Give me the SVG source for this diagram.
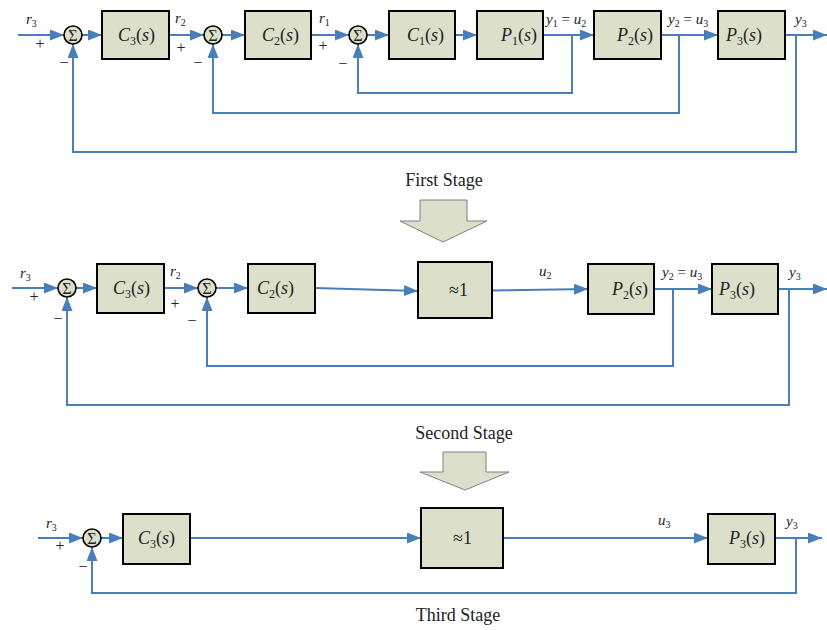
<svg xmlns="http://www.w3.org/2000/svg" width="827" height="630" viewBox="0 0 827 630">
<style>
.blk{fill:#DCE0CB;stroke:#000;stroke-width:2}
.sum{fill:#DCE0CB;stroke:#000;stroke-width:1.6}
.ln{fill:none;stroke:#4A7EBB;stroke-width:2}
text{font-family:'Liberation Serif','DejaVu Serif',serif;fill:#222}
.bt{font-size:18px}
.lb{font-size:15px}
.sg{font-size:16px;text-anchor:middle}
.sm{font-size:16px;text-anchor:middle}
.i{font-style:italic}
.st{font-size:18px;text-anchor:middle}
.big{fill:#DCE0CB;stroke:#808080;stroke-width:1}
</style>
<defs>
<marker id="ah" markerUnits="userSpaceOnUse" markerWidth="15" markerHeight="11" refX="14" refY="5.5" orient="auto">
<path d="M0,0 L14,5.5 L0,11 z" fill="#4A7EBB"/>
</marker>
</defs>

<g id="connectors">
<path class="ln" d="M18,35 H64" marker-end="url(#ah)"/>
<path class="ln" d="M82,35 H102" marker-end="url(#ah)"/>
<path class="ln" d="M169,35 H204" marker-end="url(#ah)"/>
<path class="ln" d="M222,35 H245" marker-end="url(#ah)"/>
<path class="ln" d="M311,35 H349" marker-end="url(#ah)"/>
<path class="ln" d="M367,35 H389" marker-end="url(#ah)"/>
<path class="ln" d="M455,35 H477" marker-end="url(#ah)"/>
<path class="ln" d="M543,35 H594" marker-end="url(#ah)"/>
<path class="ln" d="M661,35 H718" marker-end="url(#ah)"/>
<path class="ln" d="M785,35 H827" marker-end="url(#ah)"/>
<path class="ln" d="M572,35 V93 H358 V44" marker-end="url(#ah)"/>
<path class="ln" d="M679,35 V113 H213 V44" marker-end="url(#ah)"/>
<path class="ln" d="M796,35 V152 H73 V44" marker-end="url(#ah)"/>
<path class="ln" d="M12,288 H58" marker-end="url(#ah)"/>
<path class="ln" d="M76,288 H97" marker-end="url(#ah)"/>
<path class="ln" d="M164,288 H198" marker-end="url(#ah)"/>
<path class="ln" d="M216,288 H248" marker-end="url(#ah)"/>
<path class="ln" d="M315,288 L418,291" marker-end="url(#ah)"/>
<path class="ln" d="M492,290.5 L588,289" marker-end="url(#ah)"/>
<path class="ln" d="M654,289 H712" marker-end="url(#ah)"/>
<path class="ln" d="M778,289 H827" marker-end="url(#ah)"/>
<path class="ln" d="M673,289 V366 H207 V297" marker-end="url(#ah)"/>
<path class="ln" d="M789,289 V405 H67 V297" marker-end="url(#ah)"/>
<path class="ln" d="M38,538 H83" marker-end="url(#ah)"/>
<path class="ln" d="M101,538 H123" marker-end="url(#ah)"/>
<path class="ln" d="M190,538 H421" marker-end="url(#ah)"/>
<path class="ln" d="M503,538 H708" marker-end="url(#ah)"/>
<path class="ln" d="M775,538 H822" marker-end="url(#ah)"/>
<path class="ln" d="M796,538 V593 H92 V547" marker-end="url(#ah)"/>
</g>

<g id="s1_sum1"><circle class="sum" cx="73" cy="35" r="9"/><text class="sm" x="73" y="40.5">Σ</text></g>
<g id="s1_C3"><rect class="blk" x="102" y="11" width="67" height="48"/><text class="bt" x="118" y="41"><tspan class="i">C</tspan><tspan font-size="12" dy="4">3</tspan><tspan dy="-4">(</tspan><tspan class="i">s</tspan>)</text></g>
<g id="s1_sum2"><circle class="sum" cx="213" cy="35" r="9"/><text class="sm" x="213" y="40.5">Σ</text></g>
<g id="s1_C2"><rect class="blk" x="245" y="11" width="66" height="48"/><text class="bt" x="262" y="41"><tspan class="i">C</tspan><tspan font-size="12" dy="4">2</tspan><tspan dy="-4">(</tspan><tspan class="i">s</tspan>)</text></g>
<g id="s1_sum3"><circle class="sum" cx="358" cy="35" r="9"/><text class="sm" x="358" y="40.5">Σ</text></g>
<g id="s1_C1"><rect class="blk" x="389" y="11" width="66" height="48"/><text class="bt" x="407" y="41"><tspan class="i">C</tspan><tspan font-size="12" dy="4">1</tspan><tspan dy="-4">(</tspan><tspan class="i">s</tspan>)</text></g>
<g id="s1_P1"><rect class="blk" x="477" y="11" width="66" height="48"/><text class="bt" x="501" y="41"><tspan class="i">P</tspan><tspan font-size="12" dy="4">1</tspan><tspan dy="-4">(</tspan><tspan class="i">s</tspan>)</text></g>
<g id="s1_P2"><rect class="blk" x="594" y="11" width="67" height="48"/><text class="bt" x="617" y="41"><tspan class="i">P</tspan><tspan font-size="12" dy="4">2</tspan><tspan dy="-4">(</tspan><tspan class="i">s</tspan>)</text></g>
<g id="s1_P3"><rect class="blk" x="718" y="11" width="67" height="48"/><text class="bt" x="726" y="41"><tspan class="i">P</tspan><tspan font-size="12" dy="4">3</tspan><tspan dy="-4">(</tspan><tspan class="i">s</tspan>)</text></g>

<g id="s1_labels">
<text class="lb" x="26" y="24"><tspan class="i">r</tspan><tspan font-size="10" dy="3">3</tspan></text>
<text class="sg" x="40" y="49">+</text>
<text class="sg" x="64" y="68">−</text>
<text class="lb" x="175" y="23"><tspan class="i">r</tspan><tspan font-size="10" dy="3">2</tspan></text>
<text class="sg" x="181" y="53">+</text>
<text class="sg" x="198" y="68">−</text>
<text class="lb" x="319" y="23"><tspan class="i">r</tspan><tspan font-size="10" dy="3">1</tspan></text>
<text class="sg" x="323" y="51">+</text>
<text class="sg" x="343" y="69">−</text>
<text class="lb" x="546" y="24"><tspan class="i">y</tspan><tspan font-size="10" dy="3">1</tspan><tspan dy="-3"> = </tspan><tspan class="i">u</tspan><tspan font-size="10" dy="3">2</tspan></text>
<text class="lb" x="668" y="24"><tspan class="i">y</tspan><tspan font-size="10" dy="3">2</tspan><tspan dy="-3"> = </tspan><tspan class="i">u</tspan><tspan font-size="10" dy="3">3</tspan></text>
<text class="lb" x="795" y="24"><tspan class="i">y</tspan><tspan font-size="10" dy="3">3</tspan></text>
</g>

<g id="arrow1"><polygon class="big" points="420,200 467,200 467,221 487,221 443,242 400,221 420,221"/></g>
<text class="st" x="444" y="186">First Stage</text>

<g id="s2_sum1"><circle class="sum" cx="67" cy="288" r="9"/><text class="sm" x="67" y="293.5">Σ</text></g>
<g id="s2_C3"><rect class="blk" x="97" y="264" width="67" height="49"/><text class="bt" x="113" y="294"><tspan class="i">C</tspan><tspan font-size="12" dy="4">3</tspan><tspan dy="-4">(</tspan><tspan class="i">s</tspan>)</text></g>
<g id="s2_sum2"><circle class="sum" cx="207" cy="288" r="9"/><text class="sm" x="207" y="293.5">Σ</text></g>
<g id="s2_C2"><rect class="blk" x="248" y="264" width="67" height="49"/><text class="bt" x="257" y="294"><tspan class="i">C</tspan><tspan font-size="12" dy="4">2</tspan><tspan dy="-4">(</tspan><tspan class="i">s</tspan>)</text></g>
<g id="s2_approx"><rect class="blk" x="418" y="262" width="74" height="56"/><text class="bt" x="449" y="296">≈1</text></g>
<g id="s2_P2"><rect class="blk" x="588" y="264" width="66" height="50"/><text class="bt" x="612" y="295"><tspan class="i">P</tspan><tspan font-size="12" dy="4">2</tspan><tspan dy="-4">(</tspan><tspan class="i">s</tspan>)</text></g>
<g id="s2_P3"><rect class="blk" x="712" y="264" width="66" height="50"/><text class="bt" x="719" y="295"><tspan class="i">P</tspan><tspan font-size="12" dy="4">3</tspan><tspan dy="-4">(</tspan><tspan class="i">s</tspan>)</text></g>

<g id="s2_labels">
<text class="lb" x="20" y="278"><tspan class="i">r</tspan><tspan font-size="10" dy="3">3</tspan></text>
<text class="sg" x="34" y="302">+</text>
<text class="sg" x="58" y="324">−</text>
<text class="lb" x="170" y="276"><tspan class="i">r</tspan><tspan font-size="10" dy="3">2</tspan></text>
<text class="sg" x="175" y="309">+</text>
<text class="sg" x="192" y="326">−</text>
<text class="lb" x="539" y="276"><tspan class="i">u</tspan><tspan font-size="10" dy="3">2</tspan></text>
<text class="lb" x="662" y="277"><tspan class="i">y</tspan><tspan font-size="10" dy="3">2</tspan><tspan dy="-3"> = </tspan><tspan class="i">u</tspan><tspan font-size="10" dy="3">3</tspan></text>
<text class="lb" x="789" y="277"><tspan class="i">y</tspan><tspan font-size="10" dy="3">3</tspan></text>
</g>

<g id="arrow2"><polygon class="big" points="443,452 486,452 486,472 509,472 465,490 420,472 443,472"/></g>
<text class="st" x="464" y="439">Second Stage</text>

<g id="s3_sum"><circle class="sum" cx="92" cy="538" r="9"/><text class="sm" x="92" y="543.5">Σ</text></g>
<g id="s3_C3"><rect class="blk" x="123" y="514" width="67" height="50"/><text class="bt" x="138" y="544"><tspan class="i">C</tspan><tspan font-size="12" dy="4">3</tspan><tspan dy="-4">(</tspan><tspan class="i">s</tspan>)</text></g>
<g id="s3_approx"><rect class="blk" x="421" y="508" width="82" height="60"/><text class="bt" x="453" y="544">≈1</text></g>
<g id="s3_P3"><rect class="blk" x="708" y="514" width="67" height="50"/><text class="bt" x="729" y="544"><tspan class="i">P</tspan><tspan font-size="12" dy="4">3</tspan><tspan dy="-4">(</tspan><tspan class="i">s</tspan>)</text></g>

<g id="s3_labels">
<text class="lb" x="46" y="528"><tspan class="i">r</tspan><tspan font-size="10" dy="3">3</tspan></text>
<text class="sg" x="60" y="551">+</text>
<text class="sg" x="83" y="572">−</text>
<text class="lb" x="658" y="525"><tspan class="i">u</tspan><tspan font-size="10" dy="3">3</tspan></text>
<text class="lb" x="786" y="526"><tspan class="i">y</tspan><tspan font-size="10" dy="3">3</tspan></text>
</g>
<text class="st" x="458" y="621">Third Stage</text>
</svg>
